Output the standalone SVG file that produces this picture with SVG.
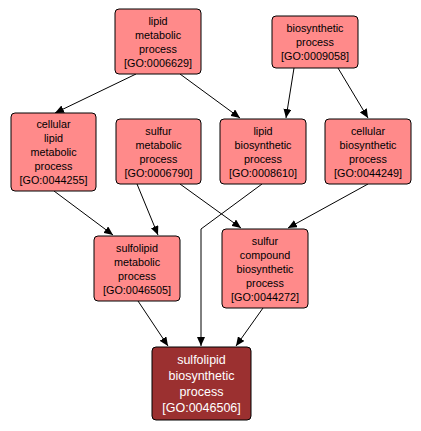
<svg xmlns="http://www.w3.org/2000/svg" width="421" height="431" viewBox="0 0 421 431">
<defs>
<marker id="arr" markerWidth="10" markerHeight="8" refX="9" refY="4" orient="auto" markerUnits="userSpaceOnUse">
<path d="M0,0 L9,4 L0,8 z" fill="#000"/>
</marker>
<style>
.n rect{fill:#ff8a8a;stroke:#000;stroke-width:1}
.n text{font-family:"Liberation Sans",Arial,sans-serif;font-size:10.8px;text-anchor:middle;fill:#000}
.d rect{fill:#9b3030;stroke:#000;stroke-width:1}
.d text{font-family:"Liberation Sans",Arial,sans-serif;font-size:12.5px;text-anchor:middle;fill:#fff}
.e path{fill:none;stroke:#000;stroke-width:1;marker-end:url(#arr)}
</style>
</defs>
<rect width="421" height="431" fill="#fff"/>
<g id="edges" class="e">
<path d="M136,74 L55,113"/>
<path d="M180,74 L240,118"/>
<path d="M294,68 L286,118"/>
<path d="M338,68 L368,118"/>
<path d="M54,191 L113,235"/>
<path d="M137,184 L158,235"/>
<path d="M180,184 L241,228"/>
<path d="M262,184 L201,229 L201,346"/>
<path d="M368,184 L288,228"/>
<path d="M138,301 L168,346"/>
<path d="M263,308 L236,346"/>
</g>
<g id="n0006629" class="n"><rect x="115" y="9" width="86" height="65" rx="4"/><text x="158" y="24.5">lipid</text><text x="158" y="38.5">metabolic</text><text x="158" y="52.5">process</text><text x="158" y="66.5">[GO:0006629]</text></g>
<g id="n0009058" class="n"><rect x="272" y="16" width="86" height="52" rx="4"/><text x="315" y="32">biosynthetic</text><text x="315" y="46">process</text><text x="315" y="60">[GO:0009058]</text></g>
<g id="n0044255" class="n"><rect x="11" y="113" width="85" height="78" rx="4"/><text x="53.5" y="128">cellular</text><text x="53.5" y="142">lipid</text><text x="53.5" y="156">metabolic</text><text x="53.5" y="170">process</text><text x="53.5" y="184">[GO:0044255]</text></g>
<g id="n0006790" class="n"><rect x="116" y="119" width="85" height="65" rx="4"/><text x="158.5" y="134.5">sulfur</text><text x="158.5" y="148.5">metabolic</text><text x="158.5" y="162.5">process</text><text x="158.5" y="176.5">[GO:0006790]</text></g>
<g id="n0008610" class="n"><rect x="220" y="119" width="86" height="65" rx="4"/><text x="263" y="134.5">lipid</text><text x="263" y="148.5">biosynthetic</text><text x="263" y="162.5">process</text><text x="263" y="176.5">[GO:0008610]</text></g>
<g id="n0044249" class="n"><rect x="325" y="119" width="86" height="65" rx="4"/><text x="368" y="134.5">cellular</text><text x="368" y="148.5">biosynthetic</text><text x="368" y="162.5">process</text><text x="368" y="176.5">[GO:0044249]</text></g>
<g id="n0046505" class="n"><rect x="94" y="236" width="86" height="65" rx="4"/><text x="137" y="251.5">sulfolipid</text><text x="137" y="265.5">metabolic</text><text x="137" y="279.5">process</text><text x="137" y="293.5">[GO:0046505]</text></g>
<g id="n0044272" class="n"><rect x="222" y="229" width="86" height="79" rx="4"/><text x="265" y="244.5">sulfur</text><text x="265" y="258.5">compound</text><text x="265" y="272.5">biosynthetic</text><text x="265" y="286.5">process</text><text x="265" y="300.5">[GO:0044272]</text></g>
<g id="n0046506" class="d"><rect x="152" y="347" width="99" height="73" rx="4"/><text x="201.5" y="363.5">sulfolipid</text><text x="201.5" y="379.5">biosynthetic</text><text x="201.5" y="395.5">process</text><text x="201.5" y="411.5">[GO:0046506]</text></g>
</svg>
